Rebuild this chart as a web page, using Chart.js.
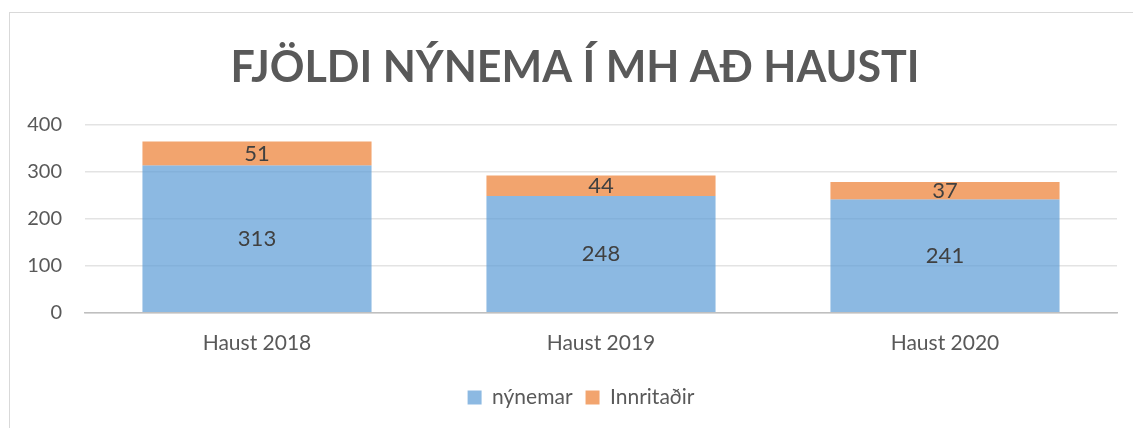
<!DOCTYPE html>
<html>
<head>
<meta charset="utf-8">
<script src="https://cdn.jsdelivr.net/npm/chart.js@4"></script>
<style>
  html, body { margin: 0; padding: 0; background: #fff; }
  #wrap { position: relative; width: 1133px; height: 428px; overflow: hidden; }
  #frame { position: absolute; left: 9px; top: 12px; width: 1200px; height: 500px; border: 1px solid #d9d9d9; }
  canvas { position: absolute; left: 0; top: 0; }
</style>
</head>
<body>
<div id="wrap">
  <div id="frame"></div>
  <canvas id="myChart" width="1133" height="428"></canvas>
</div>
<script>
var categories = ["Haust 2018", "Haust 2019", "Haust 2020"];
var nynemar = [313, 248, 241];
var innritadir = [51, 44, 37];
var yTicks = [0, 100, 200, 300, 400];

// draws the value in the middle of each bar segment
var valueLabels = {
    id: 'valueLabels',
    afterDatasetsDraw: function(chart) {
        var ctx = chart.ctx;
        ctx.save();
        ctx.font = '22px Lato';
        ctx.fillStyle = '#404040';
        ctx.textAlign = 'center';
        ctx.textBaseline = 'middle';
        chart.data.datasets.forEach(function(ds, i) {
            chart.getDatasetMeta(i).data.forEach(function(bar, j) {
                var y = (bar.y + bar.base) / 2;
                ctx.fillText(ds.data[j], bar.x, y);
            });
        });
        ctx.restore();
    }
};

// nudge title and legend a bit to the right, like the original
var nudge = {
    id: 'nudge',
    afterLayout: function(chart) {
        if (chart.titleBlock) { chart.titleBlock.left += 12; chart.titleBlock.right += 12; }
        if (chart.legend) { chart.legend.left += 18; chart.legend.right += 18; }
    }
};

var ctx = document.getElementById('myChart').getContext('2d');
var chart = new Chart(ctx, {
    type: 'bar',
    data: {
        labels: categories,
        datasets: [{
            label: "nýnemar",
            backgroundColor: 'rgba(91,155,213,0.7)',
            data: nynemar
        },
        {
            label: "Innritaðir",
            backgroundColor: 'rgba(237,125,49,0.7)',
            data: innritadir
        }]
    },
    options: {
        responsive: false,
        animation: false,
        layout: { padding: { left: 9, right: 16, top: 0, bottom: 10 } },
        datasets: { bar: { categoryPercentage: 1, barPercentage: 0.666 } },
        scales: {
            x: {
                stacked: true,
                grid: { display: false, drawTicks: false },
                border: { color: '#bfbfbf', width: 1.5 },
                ticks: { color: '#595959', font: { family: 'Lato', size: 21 }, padding: 18 }
            },
            y: {
                stacked: true,
                min: 0,
                max: 400,
                afterBuildTicks: function(scale) {
                    scale.ticks = yTicks.map(function(v) { return { value: v }; });
                },
                afterFit: function(scale) { scale.width = 76; },
                grid: { color: '#e3e3e3', lineWidth: 1.5, drawTicks: false },
                border: { display: false },
                ticks: { color: '#595959', font: { family: 'Lato', size: 20 }, padding: 23 }
            }
        },
        plugins: {
            title: {
                display: true,
                text: 'FJÖLDI NÝNEMA Í MH AÐ HAUSTI',
                color: '#595959',
                font: { family: 'Lato', size: 43, weight: 'bold' },
                padding: { top: 42, bottom: 31 }
            },
            legend: {
                position: 'bottom',
                labels: {
                    color: '#595959',
                    font: { family: 'Lato', size: 21 },
                    boxWidth: 14,
                    boxHeight: 14,
                    padding: 13
                }
            },
            tooltip: { enabled: false }
        }
    },
    plugins: [valueLabels, nudge]
});
</script>
</body>
</html>
